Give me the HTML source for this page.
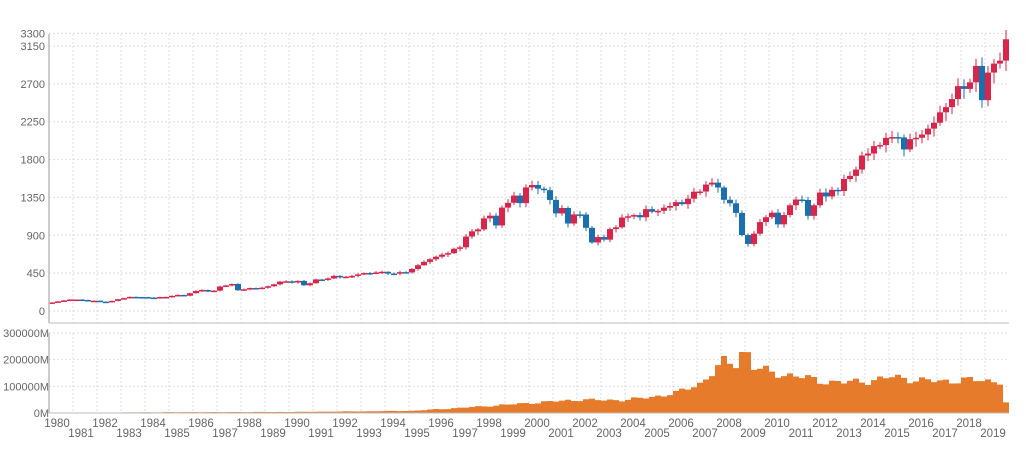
<!DOCTYPE html>
<html><head><meta charset="utf-8"><style>
body{margin:0;background:#fff;}
svg{display:block;font-family:"Liberation Sans",sans-serif;}
</style></head><body>
<svg id="c" width="1031" height="455" xmlns="http://www.w3.org/2000/svg"></svg>
<script>
const S=document.getElementById('c');let h='';
const X0=49,YW=24,X1=1009;
const py=p=>311-p*0.08413;
const vy=v=>413-v*80/300000;
for(let k=1;k<40;k++){const x=X0+YW*k;h+=`<line x1="${x}" y1="34" x2="${x}" y2="323" stroke="#ddd" stroke-dasharray="2,2"/><line x1="${x}" y1="333" x2="${x}" y2="413" stroke="#ddd" stroke-dasharray="2,2"/>`;}
[0,450,900,1350,1800,2250,2700,3150,3300].forEach(v=>{const y=py(v);h+=`<line x1="${X0}" y1="${y}" x2="${X1}" y2="${y}" stroke="#ddd" stroke-dasharray="2,2"/><text x="45" y="${y+4}" font-size="11" fill="#666" text-anchor="end">${v}</text>`;});
[[0,'0M'],[100000,'100000M'],[200000,'200000M'],[300000,'300000M']].forEach(([v,t])=>{const y=vy(v);if(v>0)h+=`<line x1="${X0}" y1="${y}" x2="${X1}" y2="${y}" stroke="#ddd" stroke-dasharray="2,2"/>`;h+=`<text x="49" y="${y+4}" font-size="11" fill="#666" text-anchor="end">${t}</text>`;});
const C=[102,114,125,136,136,131,116,122,111,110,120,140,153,168,166,165,159,153,166,167,180,191,182,211,238,250,231,242,291,304,321,247,258,273,271,277,294,317,349,353,339,358,306,330,375,371,387,417,403,408,417,435,451,450,458,466,445,444,462,459,500,544,584,615,645,670,687,740,757,885,947,970,1101,1133,1017,1229,1286,1372,1282,1469,1498,1454,1436,1320,1160,1224,1040,1148,1147,989,815,879,848,974,995,1111,1126,1140,1114,1211,1180,1191,1228,1248,1294,1270,1335,1418,1420,1503,1526,1468,1322,1280,1166,903,797,919,1057,1115,1169,1030,1141,1257,1325,1320,1131,1257,1408,1362,1440,1426,1569,1606,1681,1848,1872,1960,1972,2058,2067,2063,1920,2043,2059,2098,2168,2238,2362,2423,2519,2673,2640,2718,2913,2506,2834,2941,2976,3230];
const VA={1980:1000,1985:3000,1990:4000,1995:8000,1998:25000,2000:38000,2002:50000,2003:48000,2004:50000,2005:60000,2006:75000,2007:110000,2008:190000,2009:180000,2010:150000,2011:140000,2012:120000,2013:115000,2014:120000,2015:135000,2016:125000,2017:118000,2018:125000,2019:120000};
const ks=Object.keys(VA).map(Number);
function vol(t){for(let i=0;i<ks.length-1;i++){if(t>=ks[i]&&t<=ks[i+1]){const f=(t-ks[i])/(ks[i+1]-ks[i]);return VA[ks[i]]+(VA[ks[i+1]]-VA[ks[i]])*f;}}return VA[2019];}
let vp=`M${X0},413`;
for(let q=0;q<160;q++){const t=1980+q/4;let v=vol(t)*(1+0.08*Math.sin(q*1.7)+0.05*Math.cos(q*0.9));if(q===115||q===116)v*=1.25;if(q>=159)v=40000;const x=X0+q*6;vp+=`L${x},${vy(v)}L${x+6},${vy(v)}`;}
vp+=`L${X1},413Z`;h+=`<path d="${vp}" fill="#e67c2b"/>`;
let prev=C[0]*0.97;
C.forEach((c,i)=>{const o=prev;prev=c;const x=X0+i*6+3;const hi=Math.max(o,c)*(1+0.015+0.02*Math.abs(Math.sin(i*2.3)));const lo=Math.min(o,c)*(1-0.015-0.03*Math.abs(Math.cos(i*1.9)));const col=c>=o?'#d9254a':'#1a6faf';
h+=`<line x1="${x}" y1="${py(hi)}" x2="${x}" y2="${py(lo)}" stroke="${col}" stroke-width="1"/>`;const y1=py(Math.max(o,c)),y2=py(Math.min(o,c));h+=`<rect x="${x-3}" y="${y1}" width="6" height="${Math.max(1.5,y2-y1)}" fill="${col}"/>`;});
h+=`<line x1="${X0}" y1="34" x2="${X0}" y2="323" stroke="#bbb" stroke-width="1.5"/><line x1="${X0}" y1="323" x2="${X1}" y2="323" stroke="#bbb"/>`;
h+=`<line x1="${X0}" y1="333" x2="${X0}" y2="413" stroke="#bbb" stroke-width="1.5"/><line x1="${X0}" y1="413" x2="${X1}" y2="413" stroke="#bbb"/>`;
for(let k=0;k<40;k++){const x=57+YW*k;const y=k%2?437:427;h+=`<text x="${x}" y="${y}" font-size="11.5" fill="#666" text-anchor="middle">${1980+k}</text>`;}
S.innerHTML=h;
</script>
</body></html>
